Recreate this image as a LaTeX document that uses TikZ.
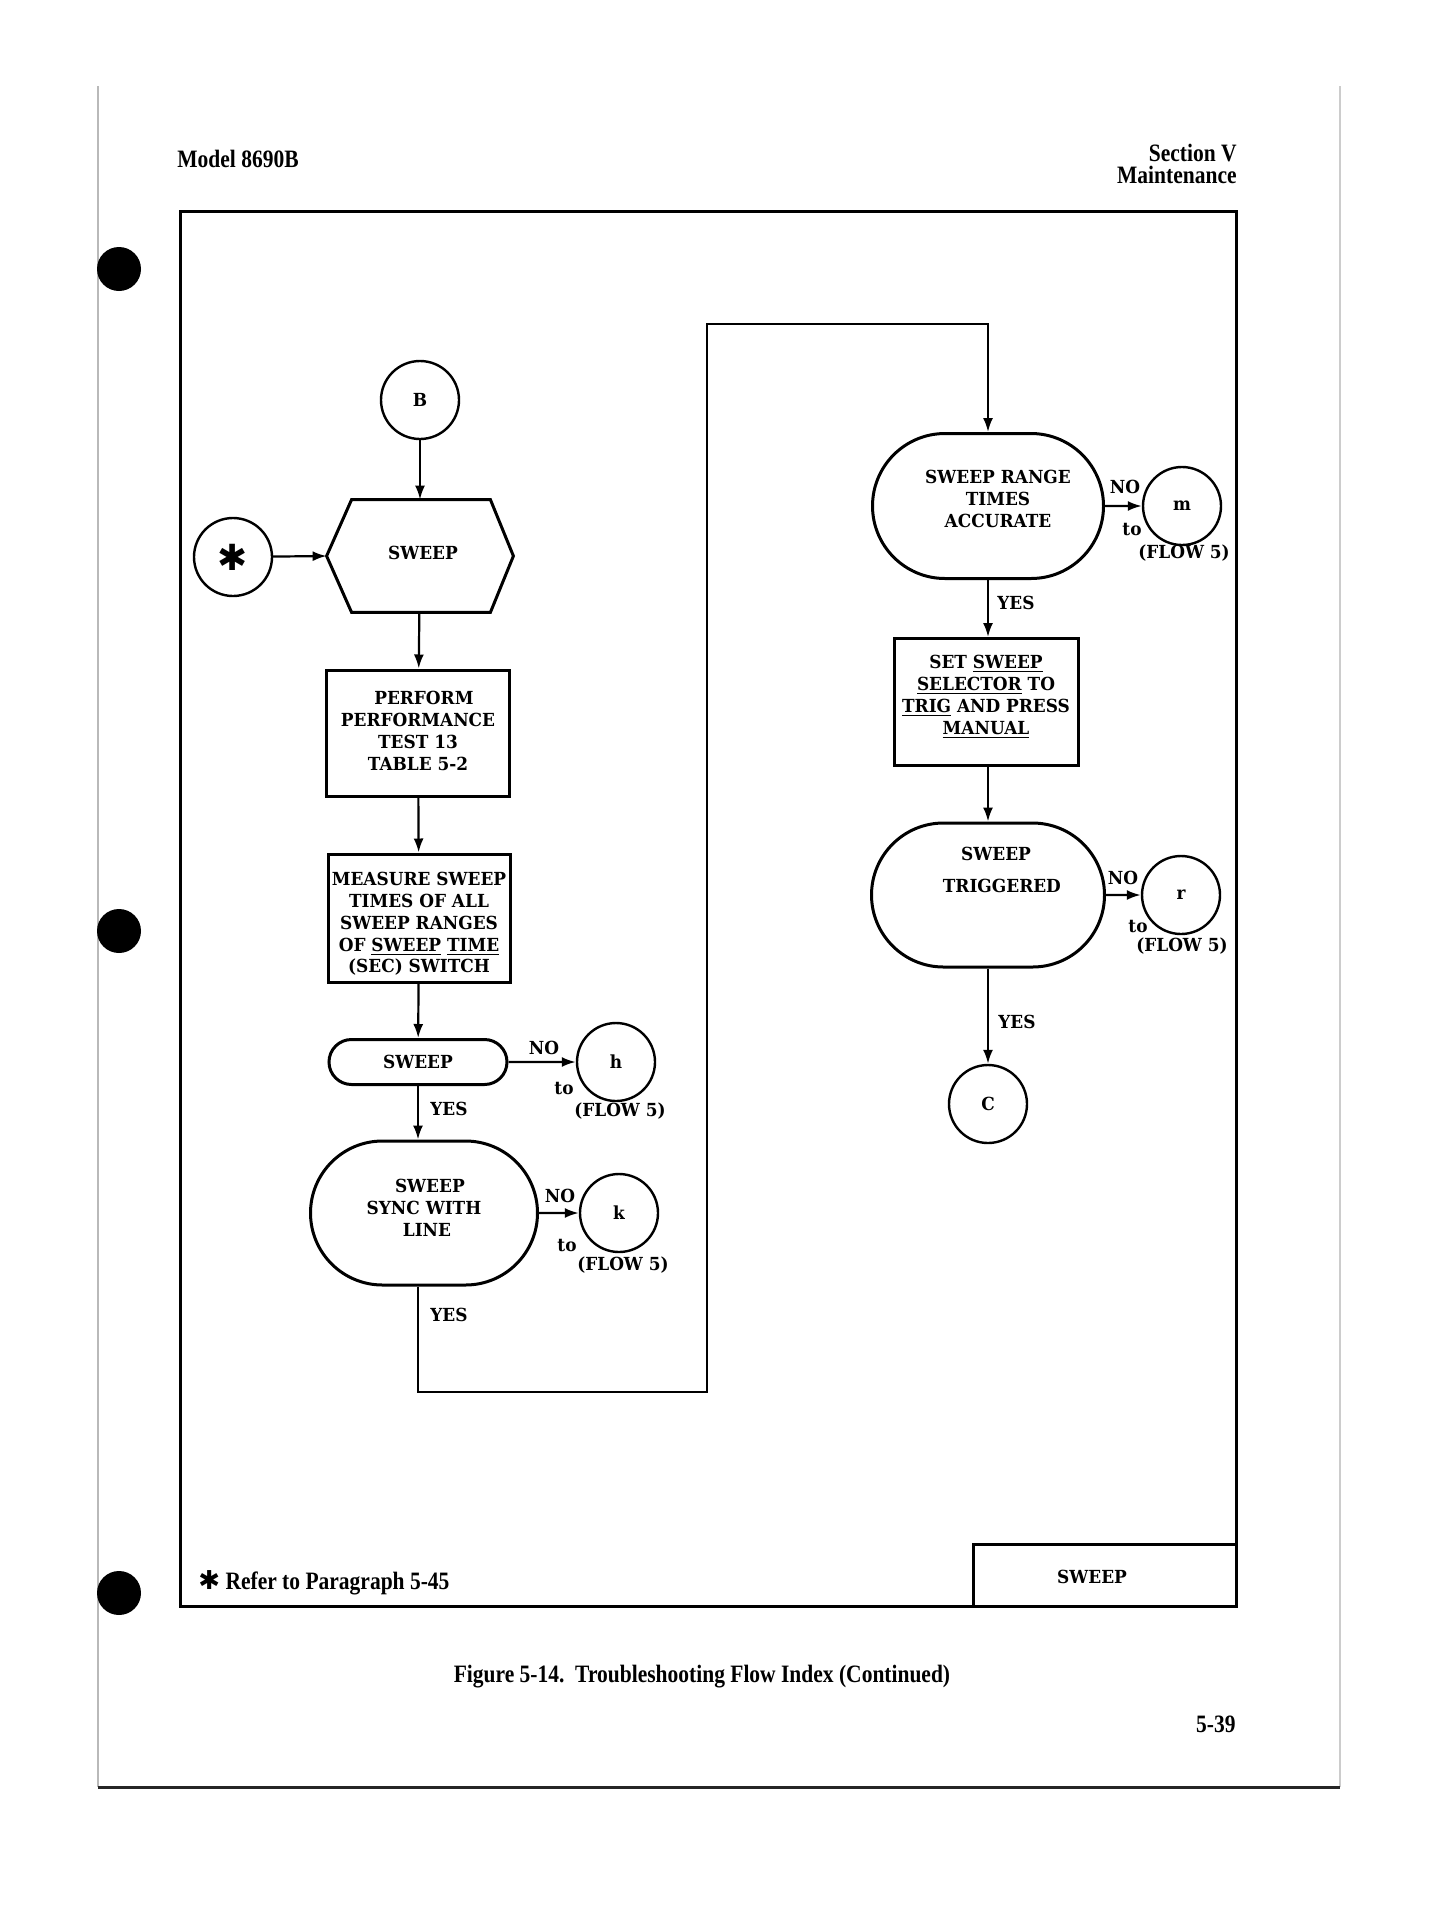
\documentclass[tikz,border=0pt]{standalone}
\usepackage{fontspec}
\setmainfont[FakeStretch=0.94]{DejaVu Serif}
\newfontfamily\hdrfont[FakeStretch=0.86]{Liberation Serif}
\newfontfamily\dvsans{DejaVu Sans}
\usetikzlibrary{arrows.meta,shapes.misc,calc}

\tikzset{
  diag/.style={font=\bfseries\fontsize{9}{10.9}\selectfont, align=center},
  conn/.style={line width=1.1pt, -{Latex[length=7pt,width=5pt]}},
  procbox/.style={diag, draw, line width=1.5pt, inner sep=0pt},
  stadium/.style={draw, rounded rectangle, line width=1.5pt, inner sep=0pt},
  ccircle/.style={diag, draw, circle, line width=1.2pt, minimum size=39pt, inner sep=0pt},
  lbl/.style={diag, inner sep=0pt},
  hdr/.style={font=\hdrfont\bfseries\fontsize{12.5}{14}\selectfont, inner sep=0pt},
  frameline/.style={line width=1.5pt},
  punch/.style={fill=black},
}

\begin{document}
\begin{tikzpicture}[x=0.5pt,y=-0.5pt]
\useasboundingbox (0,0) rectangle (1440,1917);

% page edges and punch holes (scan)
\draw[gray!55, line width=0.8pt] (98,86) -- (98,1787);
\draw[gray!40, line width=0.6pt] (1340,86) -- (1340,1787);
\draw[black!85, line width=1.5pt] (98,1787) -- (1340,1787);
\fill[punch] (119,269) circle (22);
\fill[punch] (119,931) circle (22);
\fill[punch] (119,1593) circle (22);

% header
\node[hdr, anchor=west] (model) at (177,159) {Model 8690B};
\node[hdr, anchor=east] (sec) at (1237,153) {Section V};
\node[hdr, anchor=east] (maint) at (1237,175) {Maintenance};

% frame
\draw[frameline] (180,211) rectangle (1236,1606);
\draw[frameline] (973,1606) -- (973,1544) -- (1236,1544);
\node[diag] (tag) at (1092,1577) {SWEEP};
\node[hdr, anchor=west] (foot) at (198,1583) {{\dvsans\fontsize{13}{13}\selectfont ✱}\ Refer to Paragraph 5-45};

% caption
\node[hdr] (cap) at (702,1677) {Figure 5-14.\ \ Troubleshooting Flow Index (Continued)};
\node[hdr, anchor=east] (pg) at (1236,1724) {5-39};

% left column
\node[ccircle] (B) at (420,400) {B};
\node[ccircle] (star) at (233,557) {\dvsans\fontsize{18}{18}\selectfont ✱};
\node[diag, minimum width=93pt, minimum height=56pt, inner sep=0pt] (hex) at (420,556) {\raisebox{3pt}{\ SWEEP}};
\draw[line width=1.5pt] (hex.west) -- ([xshift=12.5pt]hex.north west) -- ([xshift=-11.5pt]hex.north east)
  -- (hex.east) -- ([xshift=-11.5pt]hex.south east) -- ([xshift=12.5pt]hex.south west) -- cycle;

\node[procbox, minimum width=91.5pt, minimum height=63pt] (perf) at (418,733)
  {\begin{tabular}{@{}c@{}}\ \ PERFORM\\PERFORMANCE\\TEST 13\\TABLE 5-2\end{tabular}};
\node[procbox, minimum width=91pt, minimum height=64pt] (meas) at (419,918)
  {\raisebox{-3.5pt}[\height][\depth]{\begin{tabular}{@{}c@{}}MEASURE SWEEP\\TIMES OF ALL\\SWEEP RANGES\\OF \underline{SWEEP} \underline{TIME}\\(SEC) SWITCH\end{tabular}}};
\node[stadium, diag, minimum width=89pt, minimum height=22.5pt] (term) at (418,1062) {SWEEP};
\node[stadium, minimum width=113.5pt, minimum height=72pt] (sync) at (424,1213) {};
\node[lbl] (synct) at (424,1208) {\ \ SWEEP\\SYNC WITH\\\ LINE};

\node[ccircle] (h) at (616,1062) {h};
\node[ccircle] (k) at (619,1213) {k};

\draw[conn] (B) -- (hex);
\draw[conn] (star) -- (hex.west);
\draw[conn] (hex) -- (perf);
\draw[conn] (perf) -- (meas);
\draw[conn] (meas) -- (term);
\draw[conn] (term.south) -- (term.south |- sync.north);
\draw[conn] (term) -- (h);
\draw[conn] (sync) -- (k);

\node[lbl] (noh) at (544,1048) {NO};
\node[lbl] (toh) at (564,1088) {to};
\node[lbl] (flh) at (620,1111) {(FLOW 5)};
\node[lbl] (yes1) at (449,1109) {YES};
\node[lbl] (nok) at (560,1196) {NO};
\node[lbl] (tok) at (567,1245) {to};
\node[lbl] (flk) at (623,1265) {(FLOW 5)};
\node[lbl] (yes2) at (449,1315) {YES};

% right column
\node[stadium, minimum width=115.5pt, minimum height=72.5pt] (range) at (988,506) {};
\node[lbl] (ranget) at (998,499) {SWEEP RANGE\\TIMES\\ACCURATE};
\node[ccircle] (m) at (1182,506) {m};
\node[procbox, minimum width=92pt, minimum height=63.5pt] (set) at (986,702)
  {\raisebox{2.5pt}[\height][\depth]{\begin{tabular}{@{}c@{}}SET \underline{SWEEP}\\\underline{SELECTOR} TO\\\underline{TRIG} AND PRESS\\\underline{MANUAL}\end{tabular}}};
\node[stadium, minimum width=116.5pt, minimum height=72pt] (trig) at (988,895) {};
\node[lbl] (trigt) at (996,870) {SWEEP\\[5pt]\ \ TRIGGERED};
\node[ccircle] (r) at (1181,895) {r};
\node[ccircle] (C) at (988,1104) {C};

\coordinate (lb) at (707,1392);
\coordinate (lt) at (707,324);
\draw[conn] (sync.south -| term.south) |- (lb) -- (lt) -| (range.north);

\draw[conn] (range) -- (m);
\draw[conn] (range.south) -- (range.south |- set.north);
\draw[conn] (set.south -| trig.north) -- (trig.north);
\draw[conn] (trig) -- (r);
\draw[conn] (trig) -- (C);

\node[lbl] (nom) at (1125,487) {NO};
\node[lbl] (tom) at (1132,529) {to};
\node[lbl] (flm) at (1184,553) {(FLOW 5)};
\node[lbl] (yes3) at (1016,603) {YES};
\node[lbl] (nor) at (1123,878) {NO};
\node[lbl] (tor) at (1138,926) {to};
\node[lbl] (flr) at (1182,946) {(FLOW 5)};
\node[lbl] (yes4) at (1017,1022) {YES};
\end{tikzpicture}
\end{document}
